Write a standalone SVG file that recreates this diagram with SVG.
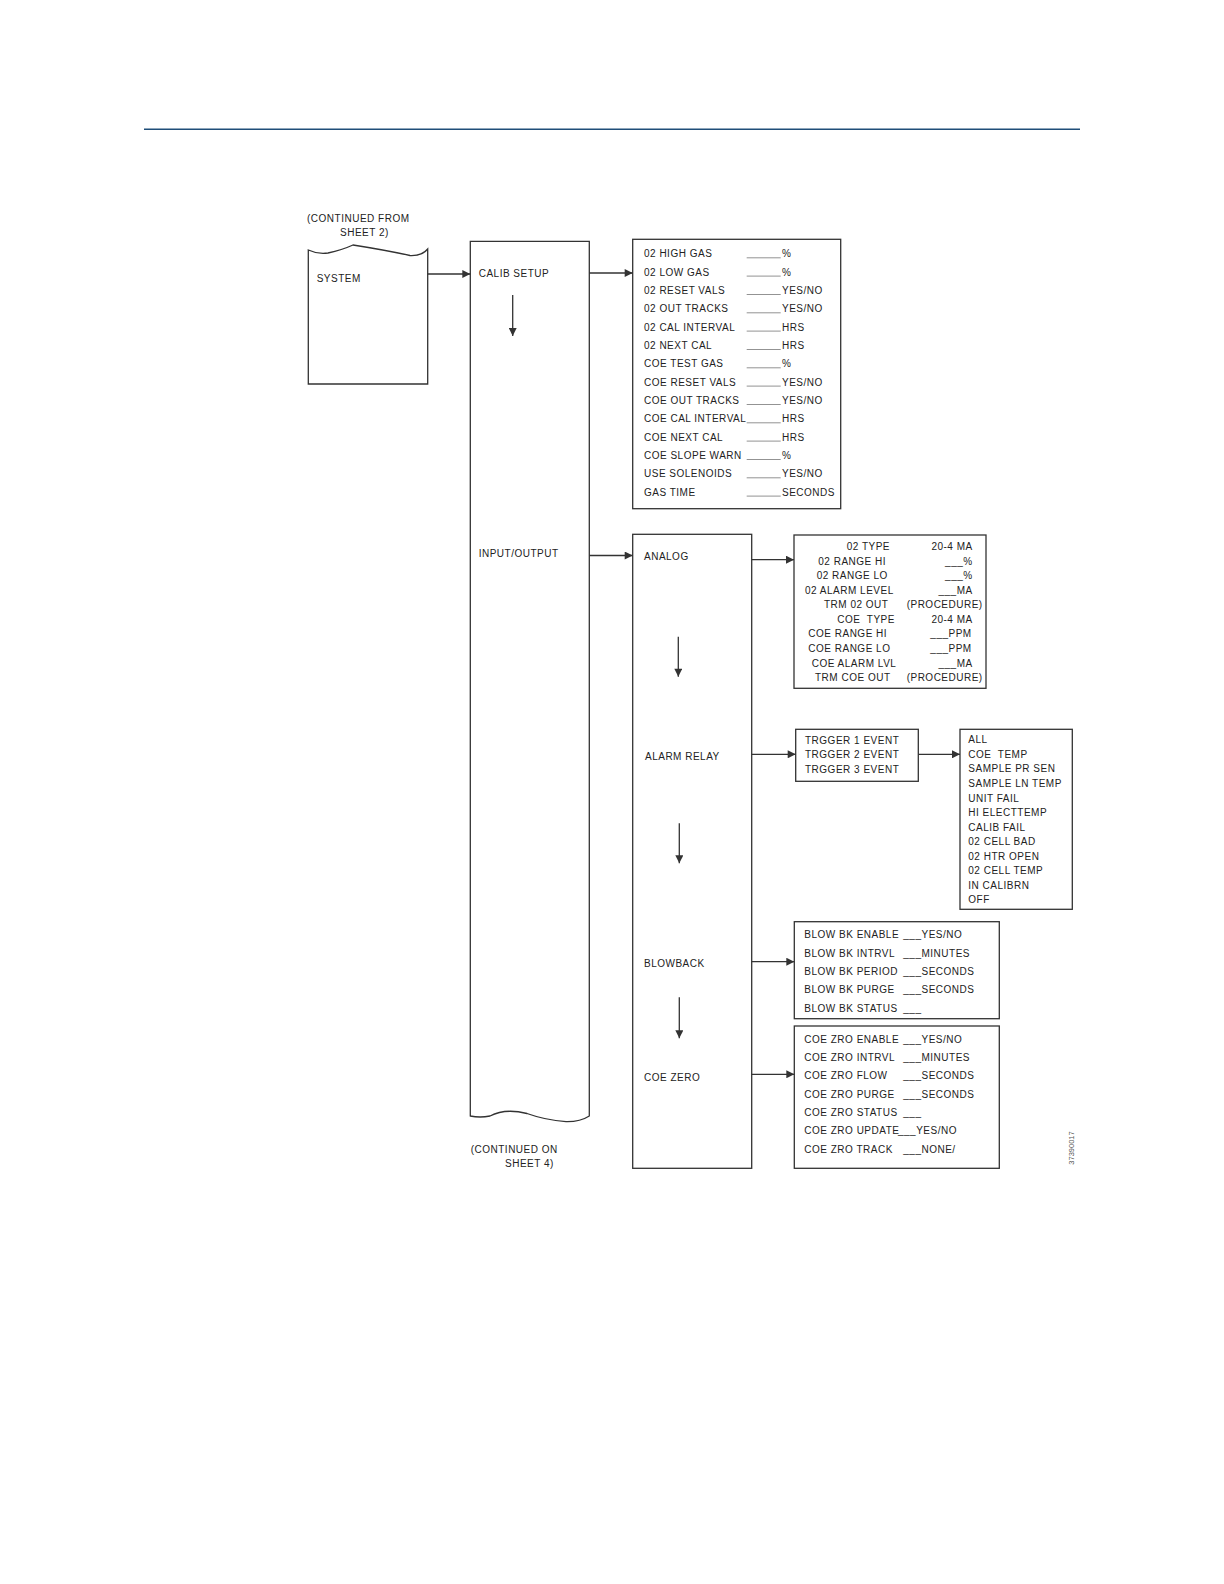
<svg xmlns="http://www.w3.org/2000/svg" width="1224" height="1584" viewBox="0 0 1224 1584">
<style>
text{font-family:"Liberation Sans","DejaVu Sans",sans-serif;font-size:10px;letter-spacing:0.5px;fill:#222;white-space:pre}
.box{fill:#fff;stroke:#333;stroke-width:1.3}
.ln{stroke:#333;stroke-width:1.3;fill:none}
.blank{stroke:#777;stroke-width:0.8}
.end{text-anchor:end}
.code{font-size:7.5px;letter-spacing:0;fill:#555}
</style>
<defs>
<marker id="ah" viewBox="0 0 10 10" refX="10" refY="5" markerWidth="9" markerHeight="8" markerUnits="userSpaceOnUse" orient="auto">
<path d="M0,0 L10,5 L0,10 Z" fill="#333"/>
</marker>
</defs>
<rect width="1224" height="1584" fill="#fff"/>
<line x1="144" y1="129.3" x2="1080" y2="129.3" stroke="#1f4e79" stroke-width="1.5"/>

<g id="system">
<text x="307" y="221.5">(CONTINUED FROM</text>
<text x="340" y="235.5">SHEET 2)</text>
<path class="box" d="M308.3,250 Q318,254.5 328,253 Q342,250 353,245 Q385,250 410,255.5 Q422,256 427.7,249 L427.7,384 L308.3,384 Z"/>
<text x="316.7" y="281.5">SYSTEM</text>
</g>

<g id="calib-column">
<path class="box" d="M470.3,241.3 H589.3 V1116 Q580,1122 566,1121.7 Q545,1120 527,1113.5 Q505,1108 490,1116 Q480,1118 470.3,1116 Z"/>
<text x="478.7" y="277">CALIB SETUP</text>
<text x="478.7" y="557">INPUT/OUTPUT</text>
<text x="470.7" y="1153.3">(CONTINUED ON</text>
<text x="505" y="1167.3">SHEET 4)</text>
</g>

<g id="calib-params">
<rect class="box" x="632.7" y="239.3" width="208" height="269.4"/>
<text x="644" y="257.3">02 HIGH GAS</text><line class="blank" x1="746.7" y1="257.8" x2="780.7" y2="257.8"/><text x="782" y="257.3">%</text>
<text x="644" y="275.6">02 LOW GAS</text><line class="blank" x1="746.7" y1="276.1" x2="780.7" y2="276.1"/><text x="782" y="275.6">%</text>
<text x="644" y="294">02 RESET VALS</text><line class="blank" x1="746.7" y1="294.5" x2="780.7" y2="294.5"/><text x="782" y="294">YES/NO</text>
<text x="644" y="312.3">02 OUT TRACKS</text><line class="blank" x1="746.7" y1="312.8" x2="780.7" y2="312.8"/><text x="782" y="312.3">YES/NO</text>
<text x="644" y="330.6">02 CAL INTERVAL</text><line class="blank" x1="746.7" y1="331.1" x2="780.7" y2="331.1"/><text x="782" y="330.6">HRS</text>
<text x="644" y="349">02 NEXT CAL</text><line class="blank" x1="746.7" y1="349.5" x2="780.7" y2="349.5"/><text x="782" y="349">HRS</text>
<text x="644" y="367.3">COE TEST GAS</text><line class="blank" x1="746.7" y1="367.8" x2="780.7" y2="367.8"/><text x="782" y="367.3">%</text>
<text x="644" y="385.6">COE RESET VALS</text><line class="blank" x1="746.7" y1="386.1" x2="780.7" y2="386.1"/><text x="782" y="385.6">YES/NO</text>
<text x="644" y="404">COE OUT TRACKS</text><line class="blank" x1="746.7" y1="404.5" x2="780.7" y2="404.5"/><text x="782" y="404">YES/NO</text>
<text x="644" y="422.3">COE CAL INTERVAL</text><line class="blank" x1="746.7" y1="422.8" x2="780.7" y2="422.8"/><text x="782" y="422.3">HRS</text>
<text x="644" y="440.6">COE NEXT CAL</text><line class="blank" x1="746.7" y1="441.1" x2="780.7" y2="441.1"/><text x="782" y="440.6">HRS</text>
<text x="644" y="459">COE SLOPE WARN</text><line class="blank" x1="746.7" y1="459.5" x2="780.7" y2="459.5"/><text x="782" y="459">%</text>
<text x="644" y="477.3">USE SOLENOIDS</text><line class="blank" x1="746.7" y1="477.8" x2="780.7" y2="477.8"/><text x="782" y="477.3">YES/NO</text>
<text x="644" y="495.6">GAS TIME</text><line class="blank" x1="746.7" y1="496.1" x2="780.7" y2="496.1"/><text x="782" y="495.6">SECONDS</text>
</g>

<g id="io-column">
<rect class="box" x="632.7" y="534.3" width="119" height="634"/>
<text x="644" y="560">ANALOG</text>
<text x="645" y="760">ALARM RELAY</text>
<text x="644" y="966.7">BLOWBACK</text>
<text x="644" y="1080.7">COE ZERO</text>
</g>

<g id="analog-params">
<rect class="box" x="794" y="535" width="192" height="153.3"/>
<text x="846.7" y="550">02 TYPE</text><text class="end" x="972.7" y="550">20-4 MA</text>
<text x="818.3" y="564.6">02 RANGE HI</text><text class="end" x="972.7" y="564.6">___%</text>
<text x="816.7" y="579.1">02 RANGE LO</text><text class="end" x="972.7" y="579.1">___%</text>
<text x="805" y="593.7">02 ALARM LEVEL</text><text class="end" x="972.7" y="593.7">___MA</text>
<text x="824" y="608.2">TRM 02 OUT</text><text class="end" x="982.7" y="608.2">(PROCEDURE)</text>
<text x="837.3" y="622.8">COE  TYPE</text><text class="end" x="972.7" y="622.8">20-4 MA</text>
<text x="808.3" y="637.4">COE RANGE HI</text><text class="end" x="971.7" y="637.4">___PPM</text>
<text x="808.3" y="651.9">COE RANGE LO</text><text class="end" x="971.7" y="651.9">___PPM</text>
<text x="811.7" y="666.5">COE ALARM LVL</text><text class="end" x="972.7" y="666.5">___MA</text>
<text x="815" y="681">TRM COE OUT</text><text class="end" x="982.7" y="681">(PROCEDURE)</text>
</g>

<g id="trigger-events">
<rect class="box" x="795.7" y="729.3" width="122.6" height="52"/>
<text x="805" y="744">TRGGER 1 EVENT</text>
<text x="805" y="758.3">TRGGER 2 EVENT</text>
<text x="805" y="772.7">TRGGER 3 EVENT</text>
</g>

<g id="trigger-options">
<rect class="box" x="960" y="729.3" width="112.3" height="180"/>
<text x="968.3" y="743.3">ALL</text>
<text x="968.3" y="757.9">COE  TEMP</text>
<text x="968.3" y="772.4">SAMPLE PR SEN</text>
<text x="968.3" y="787">SAMPLE LN TEMP</text>
<text x="968.3" y="801.5">UNIT FAIL</text>
<text x="968.3" y="816.1">HI ELECTTEMP</text>
<text x="968.3" y="830.6">CALIB FAIL</text>
<text x="968.3" y="845.2">02 CELL BAD</text>
<text x="968.3" y="859.7">02 HTR OPEN</text>
<text x="968.3" y="874.3">02 CELL TEMP</text>
<text x="968.3" y="888.8">IN CALIBRN</text>
<text x="968.3" y="903.3">OFF</text>
</g>

<g id="blowback-params">
<rect class="box" x="794.3" y="921.7" width="205" height="97"/>
<text x="804.3" y="938.3">BLOW BK ENABLE</text><text x="903.3" y="938.3">___YES/NO</text>
<text x="804.3" y="956.7">BLOW BK INTRVL</text><text x="903.3" y="956.7">___MINUTES</text>
<text x="804.3" y="975">BLOW BK PERIOD</text><text x="903.3" y="975">___SECONDS</text>
<text x="804.3" y="993.3">BLOW BK PURGE</text><text x="903.3" y="993.3">___SECONDS</text>
<text x="804.3" y="1011.7">BLOW BK STATUS</text><text x="903.3" y="1011.7">___</text>
</g>

<g id="coe-zero-params">
<rect class="box" x="794.3" y="1026" width="205" height="142.3"/>
<text x="804.3" y="1042.7">COE ZRO ENABLE</text><text x="903.3" y="1042.7">___YES/NO</text>
<text x="804.3" y="1061">COE ZRO INTRVL</text><text x="903.3" y="1061">___MINUTES</text>
<text x="804.3" y="1079.3">COE ZRO FLOW</text><text x="903.3" y="1079.3">___SECONDS</text>
<text x="804.3" y="1097.7">COE ZRO PURGE</text><text x="903.3" y="1097.7">___SECONDS</text>
<text x="804.3" y="1116">COE ZRO STATUS</text><text x="903.3" y="1116">___</text>
<text x="804.3" y="1134.3">COE ZRO UPDATE</text><text x="898" y="1134.3">___YES/NO</text>
<text x="804.3" y="1152.7">COE ZRO TRACK</text><text x="903.3" y="1152.7">___NONE/</text>
</g>

<g id="connectors">
<line class="ln" x1="427.7" y1="274" x2="470.3" y2="274" marker-end="url(#ah)"/>
<line class="ln" x1="589.3" y1="273" x2="632.7" y2="273" marker-end="url(#ah)"/>
<line class="ln" x1="512.7" y1="295" x2="512.7" y2="336" marker-end="url(#ah)"/>
<line class="ln" x1="589.3" y1="555.5" x2="632.7" y2="555.5" marker-end="url(#ah)"/>
<line class="ln" x1="751.7" y1="559.7" x2="794" y2="559.7" marker-end="url(#ah)"/>
<line class="ln" x1="678.3" y1="636.7" x2="678.3" y2="676.7" marker-end="url(#ah)"/>
<line class="ln" x1="751.7" y1="754.3" x2="795.7" y2="754.3" marker-end="url(#ah)"/>
<line class="ln" x1="918.3" y1="754.3" x2="960" y2="754.3" marker-end="url(#ah)"/>
<line class="ln" x1="679.3" y1="823.3" x2="679.3" y2="863.3" marker-end="url(#ah)"/>
<line class="ln" x1="751.7" y1="961.7" x2="794.3" y2="961.7" marker-end="url(#ah)"/>
<line class="ln" x1="679.3" y1="997.3" x2="679.3" y2="1038.3" marker-end="url(#ah)"/>
<line class="ln" x1="751.7" y1="1074.3" x2="794.3" y2="1074.3" marker-end="url(#ah)"/>
</g>

<text class="code" transform="translate(1074,1148) rotate(-90)" text-anchor="middle">37390017</text>
</svg>
